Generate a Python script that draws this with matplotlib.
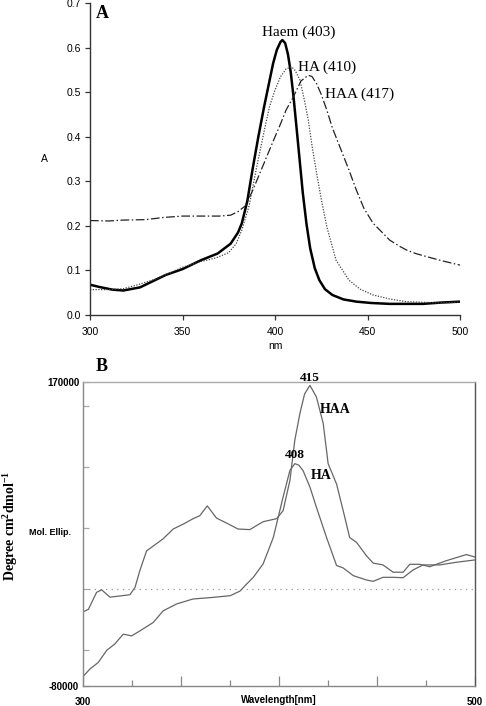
import numpy as np
import matplotlib
matplotlib.use("Agg")
import matplotlib.pyplot as plt

plt.rcParams["mathtext.fontset"] = "custom"
plt.rcParams["mathtext.rm"] = "Liberation Serif:bold"
plt.rcParams["mathtext.bf"] = "Liberation Serif:bold"

# ---- Panel A: absorbance spectra ----
haem_nm = [300, 305, 312, 318, 327, 341, 350, 360, 369, 376, 380, 382, 385, 388, 391, 394,
           397, 399, 401, 403, 404, 405.5, 407, 408.5, 410, 412, 415, 417, 419, 421.5, 424,
           427, 431, 437, 444, 452, 462, 480, 490, 500]
haem_abs = [0.068, 0.063, 0.057, 0.055, 0.062, 0.090, 0.103, 0.123, 0.138, 0.160, 0.185, 0.205,
            0.255, 0.330, 0.400, 0.465, 0.525, 0.565, 0.595, 0.613, 0.617, 0.610, 0.585, 0.545,
            0.490, 0.405, 0.275, 0.205, 0.150, 0.105, 0.078, 0.058, 0.045, 0.035, 0.030, 0.027,
            0.025, 0.025, 0.028, 0.030]

ha_nm = [300, 310, 318, 325, 335, 350, 360, 368, 375, 379, 382, 386, 390, 394, 397, 400, 403,
         406, 409, 411, 413.5, 416, 418, 420, 422.5, 425, 428, 433, 440, 446, 453, 462, 471, 489, 500]
ha_abs = [0.057, 0.057, 0.059, 0.067, 0.080, 0.107, 0.120, 0.128, 0.140, 0.160, 0.190, 0.245,
          0.330, 0.410, 0.467, 0.505, 0.535, 0.552, 0.557, 0.548, 0.527, 0.480, 0.437, 0.380,
          0.318, 0.260, 0.198, 0.123, 0.078, 0.058, 0.045, 0.036, 0.030, 0.027, 0.029]

haa_nm = [300, 310, 318, 330, 340, 350, 360, 370, 376, 380, 384, 388, 392, 395.5, 399, 402.7,
          406, 410, 414, 418, 420, 422.5, 425, 428, 431, 435, 440, 444, 448, 453, 458, 462, 467,
          471, 476, 482, 490, 500]
haa_abs = [0.212, 0.211, 0.213, 0.214, 0.219, 0.222, 0.222, 0.222, 0.224, 0.232, 0.245, 0.280,
           0.320, 0.355, 0.390, 0.426, 0.460, 0.490, 0.525, 0.538, 0.535, 0.519, 0.495, 0.460,
           0.420, 0.378, 0.325, 0.280, 0.240, 0.206, 0.185, 0.168, 0.155, 0.146, 0.138, 0.131,
           0.122, 0.112]

# ---- Panel B: CD spectra ----
cd_ha_nm = [300, 303.4, 307.6, 312, 316, 320.4, 324.7, 329, 335.7, 340.8, 347.6, 356, 366,
            375, 380, 383.4, 386.8, 391.8, 397, 402, 405.5, 408, 410, 412.2, 415.7, 419, 424.2,
            429.3, 432.7, 437.8, 444.6, 448, 453, 458.2, 463.3, 468.4, 473.5, 482, 490.6, 500]
cd_ha = [-72000, -66000, -60700, -50600, -45600, -37400, -38800, -34600, -27800, -18200,
         -12600, -8500, -7200, -5800, -2000, 3800, 9300, 20300, 42000, 75200, 97200, 102700,
         101500, 97000, 83500, 67000, 42000, 19000, 17000, 10700, 7100, 6000, 9300, 9300, 9000,
         15400, 19500, 19500, 21700, 23600]

cd_haa_nm = [300, 302.6, 306.8, 309.4, 313.6, 318.7, 323.8, 326.4, 328.9, 332.3, 335.7, 340.8,
             345.9, 351, 356.1, 359.5, 363.3, 368, 373, 379, 385, 391.8, 398.7, 402, 405.5, 408,
             410.6, 413, 415.7, 419, 422.5, 425, 429.3, 432.7, 436, 439.5, 444.6, 448, 453,
             458.2, 463.3, 466.7, 471.8, 476.9, 485.4, 495.6, 500]
cd_haa = [-19000, -17000, -3000, -1000, -7000, -6000, -5000, 1000, 15000, 31000, 35000, 41000,
          49000, 53000, 57500, 60000, 68000, 58000, 54000, 49000, 48500, 55000, 57500, 64000,
          89000, 122000, 144000, 160000, 167000, 157600, 135700, 102700, 86000, 64000, 42000,
          38000, 27000, 21000, 19500, 13500, 13500, 20000, 20000, 18000, 23000, 28000, 26000]

serif = "Liberation Serif"
sans = "Liberation Sans"

fig = plt.figure(figsize=(4.86, 7.06), dpi=100)

# ----- Panel A -----
axA = fig.add_axes([0.1852, 0.5538, 0.7613, 0.4419])
axA.plot(haem_nm, haem_abs, color="black", lw=1.8)
axA.plot(ha_nm, ha_abs, color="#444444", lw=0.9, linestyle=(0, (1, 1.2)))
axA.plot(haa_nm, haa_abs, color="#222222", lw=0.9, linestyle=(0, (7, 2, 1.2, 2)))
axA.set_xlim(300, 500)
axA.set_ylim(0, 0.7)
axA.set_xticks([300, 350, 400, 450, 500])
axA.set_yticks(np.arange(0, 0.71, 0.1))
axA.set_yticklabels([f"{v:.1f}" for v in np.arange(0, 0.71, 0.1)])
for s in ["top", "right"]:
    axA.spines[s].set_visible(False)
for s in ["left", "bottom"]:
    axA.spines[s].set_color("#333333")
    axA.spines[s].set_linewidth(1.0)
axA.tick_params(direction="out", length=3.5, width=0.9, color="#333333", labelsize=7.5)
axA.tick_params(axis="x", pad=5)
axA.tick_params(axis="y", pad=3)
for lab in axA.get_xticklabels() + axA.get_yticklabels():
    lab.set_fontfamily(sans)
axA.set_xlabel("nm", fontfamily=sans, fontsize=7.5, labelpad=3)
axA.set_ylabel("A", fontfamily=sans, fontsize=7.5, rotation=0, labelpad=16, va="center")
axA.text(393, 0.635, "Haem (403)", fontfamily=serif, fontsize=11, va="center", ha="left")
axA.text(412.4, 0.556, "HA (410)", fontfamily=serif, fontsize=11, va="center", ha="left")
axA.text(427, 0.496, "HAA (417)", fontfamily=serif, fontsize=11, va="center", ha="left")
axA.text(0.032, 0.965, "A", transform=axA.transAxes, fontfamily=serif, fontsize=13,
         fontweight="bold", va="center", ha="center")

# ----- Panel B -----
axB = fig.add_axes([0.1714, 0.0283, 0.806, 0.431])
axB.axhline(0, color="#999999", lw=0.9, linestyle=(0, (1, 3.5)))
axB.plot(cd_ha_nm, cd_ha, color="#666666", lw=0.9)
axB.plot(cd_haa_nm, cd_haa, color="#666666", lw=0.9)
axB.set_xlim(300, 500)
axB.set_ylim(-80000, 170000)
axB.set_xticks([300, 350, 400, 450, 500])
axB.set_xticklabels(["300", "", "", "", "500"])
axB.set_xticks([325, 375, 425, 475], minor=True)
axB.set_yticks([-80000, -50000, 0, 50000, 100000, 150000, 170000])
axB.set_yticklabels(["-80000", "", "", "", "", "", "170000"])
axB.spines["top"].set_color("#aaaaaa")
axB.spines["left"].set_color("#888888")
axB.spines["bottom"].set_color("#888888")
axB.spines["right"].set_color("#555555")
for s in axB.spines.values():
    s.set_linewidth(1.0)
axB.tick_params(which="major", axis="x", direction="in", length=7, width=0.9, color="#888888",
                pad=8, labelsize=7)
axB.tick_params(which="minor", axis="x", direction="in", length=4, width=0.9, color="#888888")
axB.tick_params(axis="y", direction="in", length=4, width=0.9, color="#aaaaaa", pad=3, labelsize=7)
for lab in axB.get_xticklabels() + axB.get_yticklabels():
    lab.set_fontfamily(sans)
    lab.set_fontweight("bold")
axB.text(0.5, -0.046, "Wavelength[nm]", transform=axB.transAxes, fontfamily=sans, fontsize=7,
         fontweight="bold", ha="center", va="center")
axB.text(-0.085, 0.503, "Mol. Ellip.", transform=axB.transAxes, fontfamily=sans, fontsize=6.5,
         fontweight="bold", ha="center", va="center")
axB.text(-0.187, 0.526, r"Degree cm$^{2}$dmol$^{-1}$", transform=axB.transAxes,
         fontfamily=serif, fontsize=10, fontweight="bold", rotation=90, ha="center", va="center")
axB.text(415.8, 173000, "415", fontfamily=serif, fontsize=9.5, fontweight="bold",
         ha="center", va="center", clip_on=False)
axB.text(420.9, 147500, "HAA", fontfamily=serif, fontsize=10, fontweight="bold",
         ha="left", va="center")
axB.text(408.1, 109600, "408", fontfamily=serif, fontsize=9.5, fontweight="bold",
         ha="center", va="center")
axB.text(416.3, 93100, "HA", fontfamily=serif, fontsize=10, fontweight="bold",
         ha="left", va="center")
axB.text(0.048, 1.05, "B", transform=axB.transAxes, fontfamily=serif, fontsize=13,
         fontweight="bold", ha="center", va="center")

fig.savefig("out.png", dpi=100)
